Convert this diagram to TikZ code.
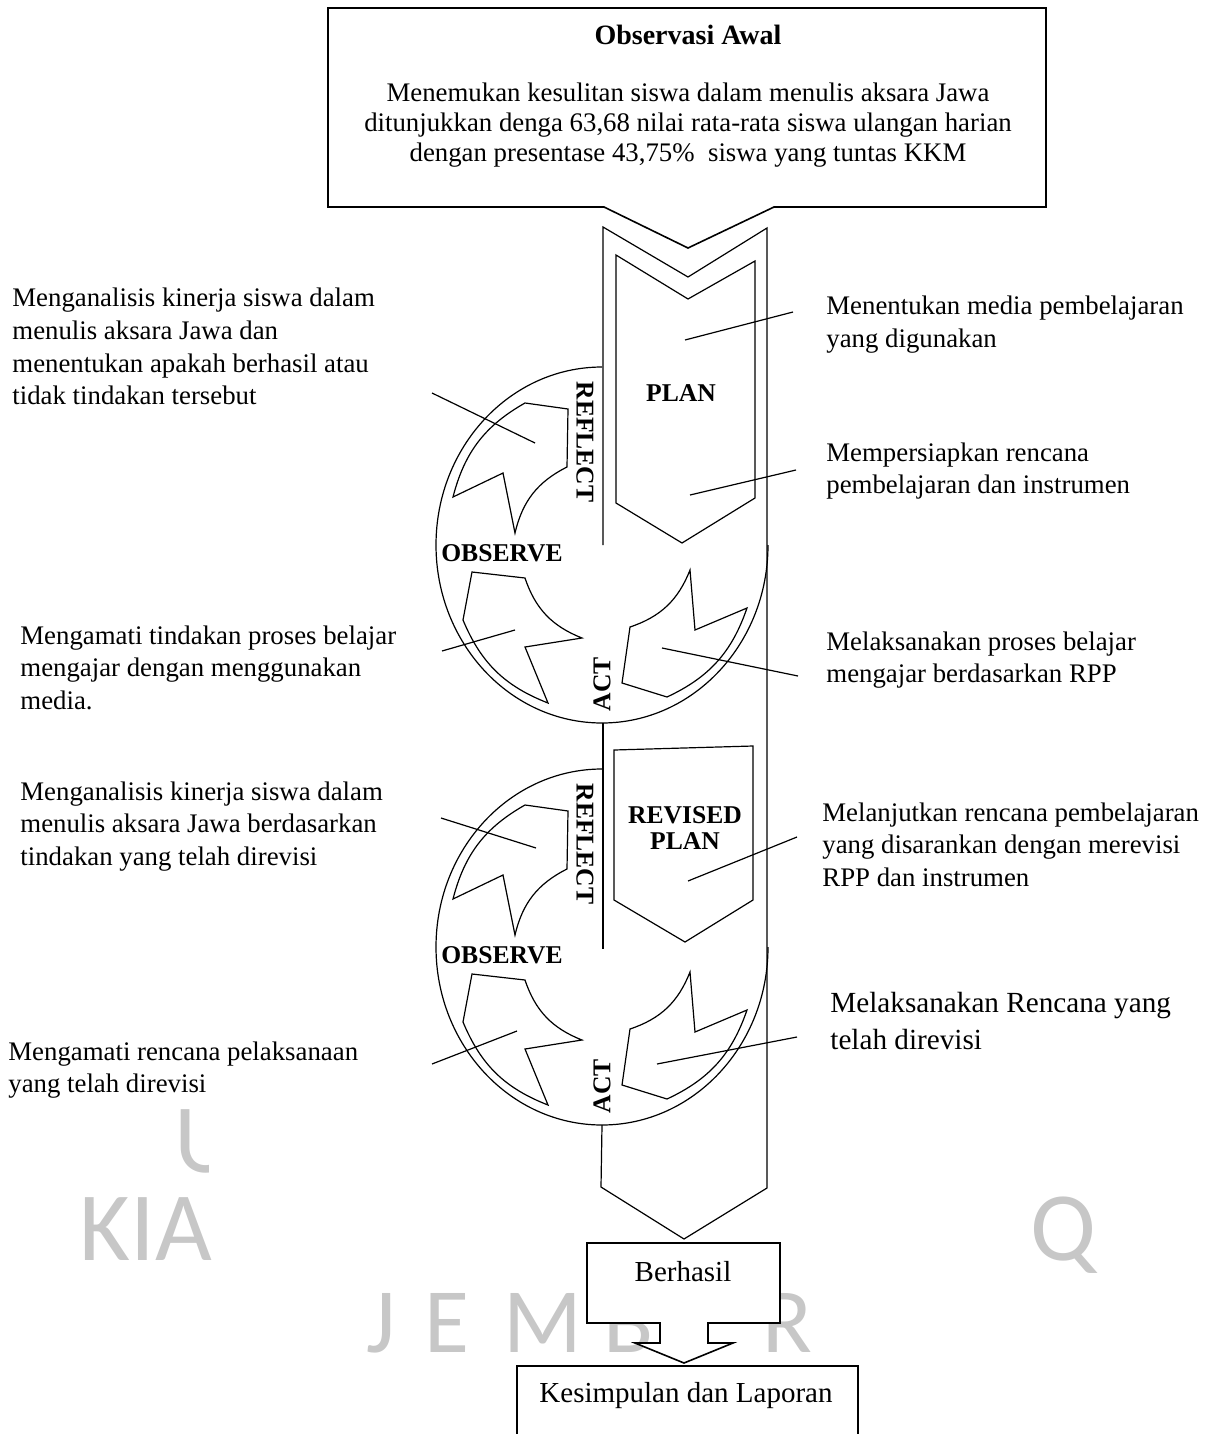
\documentclass[tikz,border=0pt]{standalone}
\usepackage{fontspec}
\setmainfont{Liberation Serif}
\newfontfamily\wmfont{Carlito}

\begin{document}
\begin{tikzpicture}[x=0.5pt,y=-0.5pt,line join=miter,
  side/.style={anchor=north west,align=left,inner sep=0pt,font=\fontsize{13.4}{16.3}\selectfont},
  lbl/.style={inner sep=0pt,font=\bfseries\fontsize{12.8}{13}\selectfont},
  wm/.style={anchor=base west,inner sep=0pt,text=black!22},
  box/.style={draw,line width=0.8pt,fill=white},
  cyc/.style={draw,line width=0.6pt}]
  \clip (0,0) rectangle (1212,1434);

  \begin{scope}
    \clip (150,1100) rectangle (208,1200);
    \node[wm,font=\wmfont\fontsize{49}{49}\selectfont] (wmU) at (174,1172) {U};
  \end{scope}
  \node[wm,font=\wmfont\fontsize{49}{49}\selectfont] (wmKIA) at (79,1260) {KIA};
  \node[wm,font=\wmfont\fontsize{49}{49}\selectfont] (wmQ) at (1030,1260) {Q};
  \foreach \ch/\xx in {J/366,E/424,M/503,B/603,R/762}
    \node[wm,font=\wmfont\fontsize{46}{46}\selectfont] (wm\ch) at (\xx,1352) {\ch};

  \draw[box] (328,8) -- (1046,8) -- (1046,207) -- (774,207) -- (688,248) -- (604,207) -- (328,207) -- cycle;
  \node[font=\bfseries\fontsize{14}{15}\selectfont] (obsawal) at (688,35) {Observasi Awal};
  \node[align=center,font=\fontsize{13.4}{15}\selectfont] (temuan) at (688,125)
    {Menemukan kesulitan siswa dalam menulis aksara Jawa\\
     ditunjukkan denga 63,68 nilai rata-rata siswa ulangan harian\\
     dengan presentase 43,75\%\ \ siswa yang tuntas KKM};

  \draw[cyc] (603,545) -- (603,227) -- (688,277) -- (767,228) -- (767,1188) -- (684,1239) -- (601,1187) -- (602,1125);
  \draw[cyc] (603,723) -- (603,949);

  \draw[cyc] (616,255) -- (688,299) -- (755,261) -- (755,498) -- (682,543) -- (616,503) -- cycle;
  \node[lbl] (plan) at (681,393) {PLAN};
  \draw[cyc] (614,750) -- (753,746) -- (753,900) -- (685,942) -- (614,900) -- cycle;
  \node[lbl,align=center] (rplan) at (685,828) {REVISED\\PLAN};

  \foreach \i/\dy in {1/0,2/402}{
    \begin{scope}[shift={(0,\dy)}]
      \draw[cyc] (602,367) arc[start angle=90,end angle=360,x radius=83pt,y radius=89pt];
      \draw[cyc] (525,403) -- (568,409) -- (567,467) to[bend right=25] (515,533) -- (503,473) -- (453,497) to[bend left=23] (525,403) -- cycle;
      \draw[cyc] (472,572) -- (525,578) to[bend right=25] (582,638) -- (525,647) -- (548,703) to[bend left=23] (463,620) -- cycle;
      \draw[cyc] (690,570) -- (695,630) -- (747,608) to[bend left=23] (667,697) -- (622,683) -- (630,627) to[bend right=25] (690,570) -- cycle;
      \node[lbl,rotate=-90] (refl\i) at (585,442) {REFLECT};
      \node[lbl] (obs\i) at (502,553) {OBSERVE};
      \node[lbl,rotate=90] (act\i) at (602,684) {ACT};
    \end{scope}}

  \node[side] (l1) at (12,288) {Menganalisis kinerja siswa dalam\\menulis aksara Jawa dan\\menentukan apakah berhasil atau\\tidak tindakan tersebut};
  \node[side] (l2) at (20,625) {Mengamati tindakan proses belajar\\mengajar dengan menggunakan\\media.};
  \node[side] (l3) at (20,781) {Menganalisis kinerja siswa dalam\\menulis aksara Jawa berdasarkan\\tindakan yang telah direvisi};
  \node[side] (l4) at (8,1041) {Mengamati rencana pelaksanaan\\yang telah direvisi};
  \node[side] (r1) at (826,296) {Menentukan media pembelajaran\\yang digunakan};
  \node[side] (r2) at (826,442) {Mempersiapkan rencana\\pembelajaran dan instrumen};
  \node[side] (r3) at (826,631) {Melaksanakan proses belajar\\mengajar berdasarkan RPP};
  \node[side] (r4) at (822,802) {Melanjutkan rencana pembelajaran\\yang disarankan dengan merevisi\\RPP dan instrumen};
  \node[side,font=\fontsize{14.6}{18.5}\selectfont] (r5) at (830,992) {Melaksanakan Rencana yang\\telah direvisi};

  \coordinate (l1a) at (432,393);  \coordinate (l1b) at (535,443);
  \coordinate (l2a) at (442,651);  \coordinate (l2b) at (515,630);
  \coordinate (l3a) at (441,818);  \coordinate (l3b) at (536,848);
  \coordinate (l4a) at (432,1064); \coordinate (l4b) at (517,1031);
  \coordinate (r1a) at (793,312);  \coordinate (r1b) at (685,340);
  \coordinate (r2a) at (796,470);  \coordinate (r2b) at (690,495);
  \coordinate (r3a) at (798,676);  \coordinate (r3b) at (662,648);
  \coordinate (r4a) at (797,837);  \coordinate (r4b) at (688,881);
  \coordinate (r5a) at (797,1037); \coordinate (r5b) at (657,1064);
  \foreach \p in {l1,l2,l3,l4,r1,r2,r3,r4,r5}
    \draw[cyc] (\p a) -- (\p b);

  \draw[box] (587,1243) -- (780,1243) -- (780,1323) -- (708,1323) -- (708,1343) -- (733,1343) -- (684,1363) -- (635,1343) -- (660,1343) -- (660,1323) -- (587,1323) -- cycle;
  \node[font=\fontsize{14.5}{16}\selectfont] (hasil) at (683,1272) {Berhasil};
  \draw[box] (517,1366) rectangle (858,1450);
  \node[font=\fontsize{14.5}{16}\selectfont] (lapor) at (686,1396) {Kesimpulan dan Laporan};
\end{tikzpicture}
\end{document}
